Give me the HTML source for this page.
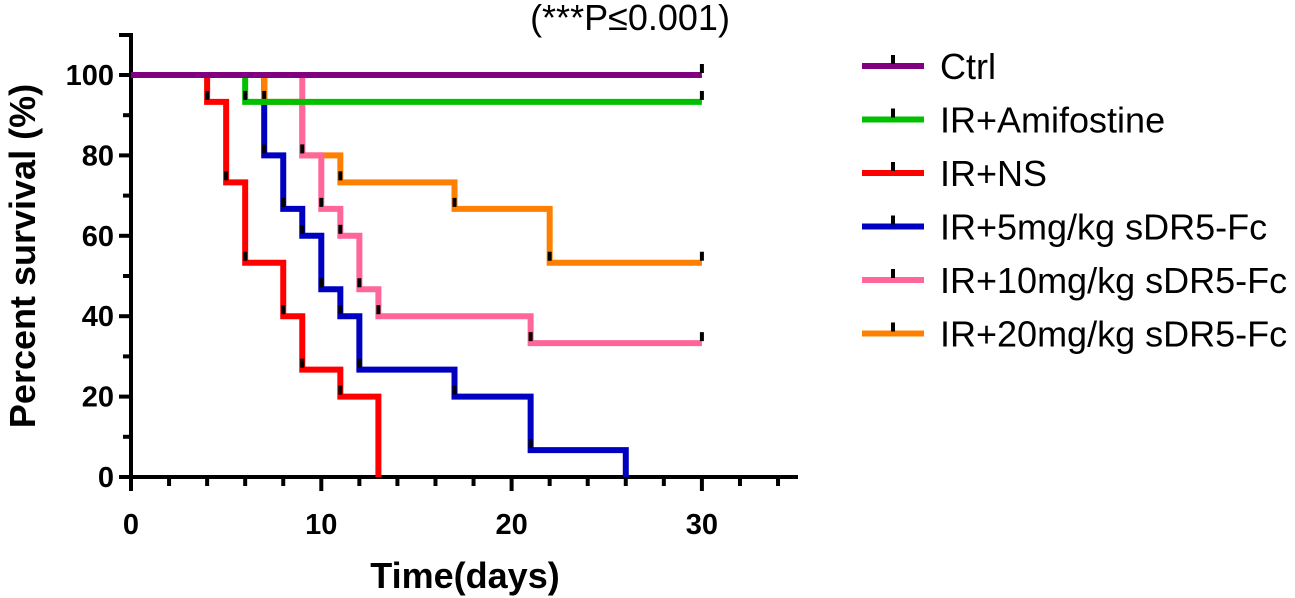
<!DOCTYPE html>
<html><head><meta charset="utf-8"><style>
body{margin:0;background:#fff;}
svg{display:block;font-family:"Liberation Sans",Arial,sans-serif;}
</style></head><body>
<svg id="chart" width="1295" height="598" viewBox="0 0 1295 598">
<g id="axes"></g>
<g id="series"></g>
<g id="legend"></g>
<text x="630" y="30" font-size="36" text-anchor="middle">(***P≤0.001)</text>
<text x="465" y="588" font-size="36" font-weight="bold" text-anchor="middle">Time(days)</text>
<text transform="translate(35,256) rotate(-90)" font-size="36" font-weight="bold" text-anchor="middle">Percent survival (%)</text>
</svg>
<script>
const xTicks=[0,10,20,30];
const yTicks=[0,20,40,60,80,100];
const seriesNames=["Ctrl","IR+Amifostine","IR+NS","IR+5mg/kg sDR5-Fc","IR+10mg/kg sDR5-Fc","IR+20mg/kg sDR5-Fc"];
const seriesColors=["#800080","#00c000","#ff0000","#0000c0","#ff6699","#ff8000"];
const ctrlTimes=[0,30];const ctrlVals=[100,100];
const amiTimes=[0,6,30];const amiVals=[100,93.3,93.3];
const nsTimes=[0,4,5,6,8,9,11,13];const nsVals=[100,93.3,73.3,53.3,40,26.7,20,0];
const d5Times=[0,7,8,9,10,11,12,17,21,26];const d5Vals=[100,80,66.7,60,46.7,40,26.7,20,6.7,0];
const d10Times=[0,9,10,11,12,13,21,30];const d10Vals=[100,80,66.7,60,46.7,40,33.3,33.3];
const d20Times=[0,7,9,11,17,22,30];const d20Vals=[100,93.3,80,73.3,66.7,53.3,53.3];
const allTimes=[ctrlTimes,amiTimes,nsTimes,d5Times,d10Times,d20Times];
const allVals=[ctrlVals,amiVals,nsVals,d5Vals,d10Vals,d20Vals];
const NS="http://www.w3.org/2000/svg";
const X=t=>131+t*19.03, Y=v=>477-v*4.02;
function mk(tag,attrs,parent){const e=document.createElementNS(NS,tag);for(const k in attrs)e.setAttribute(k,attrs[k]);parent.appendChild(e);return e;}
const ax=document.getElementById('axes');
let e=mk('line',{x1:X(0),y1:33,x2:X(0),y2:Y(0)+2,stroke:'#000','stroke-width':4},ax);

e=mk('line',{x1:X(0)-2,y1:Y(0),x2:798,y2:Y(0),stroke:'#000','stroke-width':4},ax);

mk('line',{x1:X(0)-12,y1:35,x2:X(0),y2:35,stroke:'#000','stroke-width':4},ax);
for(let v=10;v<=100;v+=10){const maj=v%20===0;mk('line',{x1:X(0)-(maj?12:8),y1:Y(v),x2:X(0),y2:Y(v),stroke:'#000','stroke-width':4},ax);}
mk('line',{x1:X(0)-12,y1:Y(0),x2:X(0),y2:Y(0),stroke:'#000','stroke-width':4},ax);
for(let t=0;t<=34;t+=2){const maj=t%10===0;mk('line',{x1:X(t),y1:Y(0),x2:X(t),y2:Y(0)+(maj?14:9),stroke:'#000','stroke-width':4},ax);}
yTicks.forEach(v=>{const t=mk('text',{x:X(0)-17,y:Y(v)+10,'font-size':29,'font-weight':'bold','text-anchor':'end'},ax);t.textContent=v;
});
xTicks.forEach(v=>{const t=mk('text',{x:X(v),y:534,'font-size':29,'font-weight':'bold','text-anchor':'middle'},ax);t.textContent=v;
});
const sg=document.getElementById('series');
const order=[3,2,5,4,1,0];
order.forEach(i=>{const ts=allTimes[i],vs=allVals[i];let d=`M${X(ts[0])},${Y(vs[0])}`;
for(let k=1;k<ts.length;k++){d+=` H${X(ts[k])} V${Y(vs[k])}`;}
const p=mk('path',{d:d,fill:'none',stroke:seriesColors[i],'stroke-width':6},sg);


for(let k=1;k<ts.length;k++){if(vs[k]===0)continue;const m=mk('rect',{x:X(ts[k])-2,y:Y(vs[k])-11,width:4,height:9,fill:'#000'},sg);
}
});
const lg=document.getElementById('legend');
seriesNames.forEach((n,i)=>{const y=66+i*53.5;const g=mk('g',{},lg);

mk('line',{x1:862,y1:y,x2:924,y2:y,stroke:seriesColors[i],'stroke-width':6},g);
mk('rect',{x:891,y:y-11,width:4,height:9,fill:'#000'},g);
const t=mk('text',{x:940,y:y+13,'font-size':36},g);t.textContent=n;});
</script>
</body></html>
